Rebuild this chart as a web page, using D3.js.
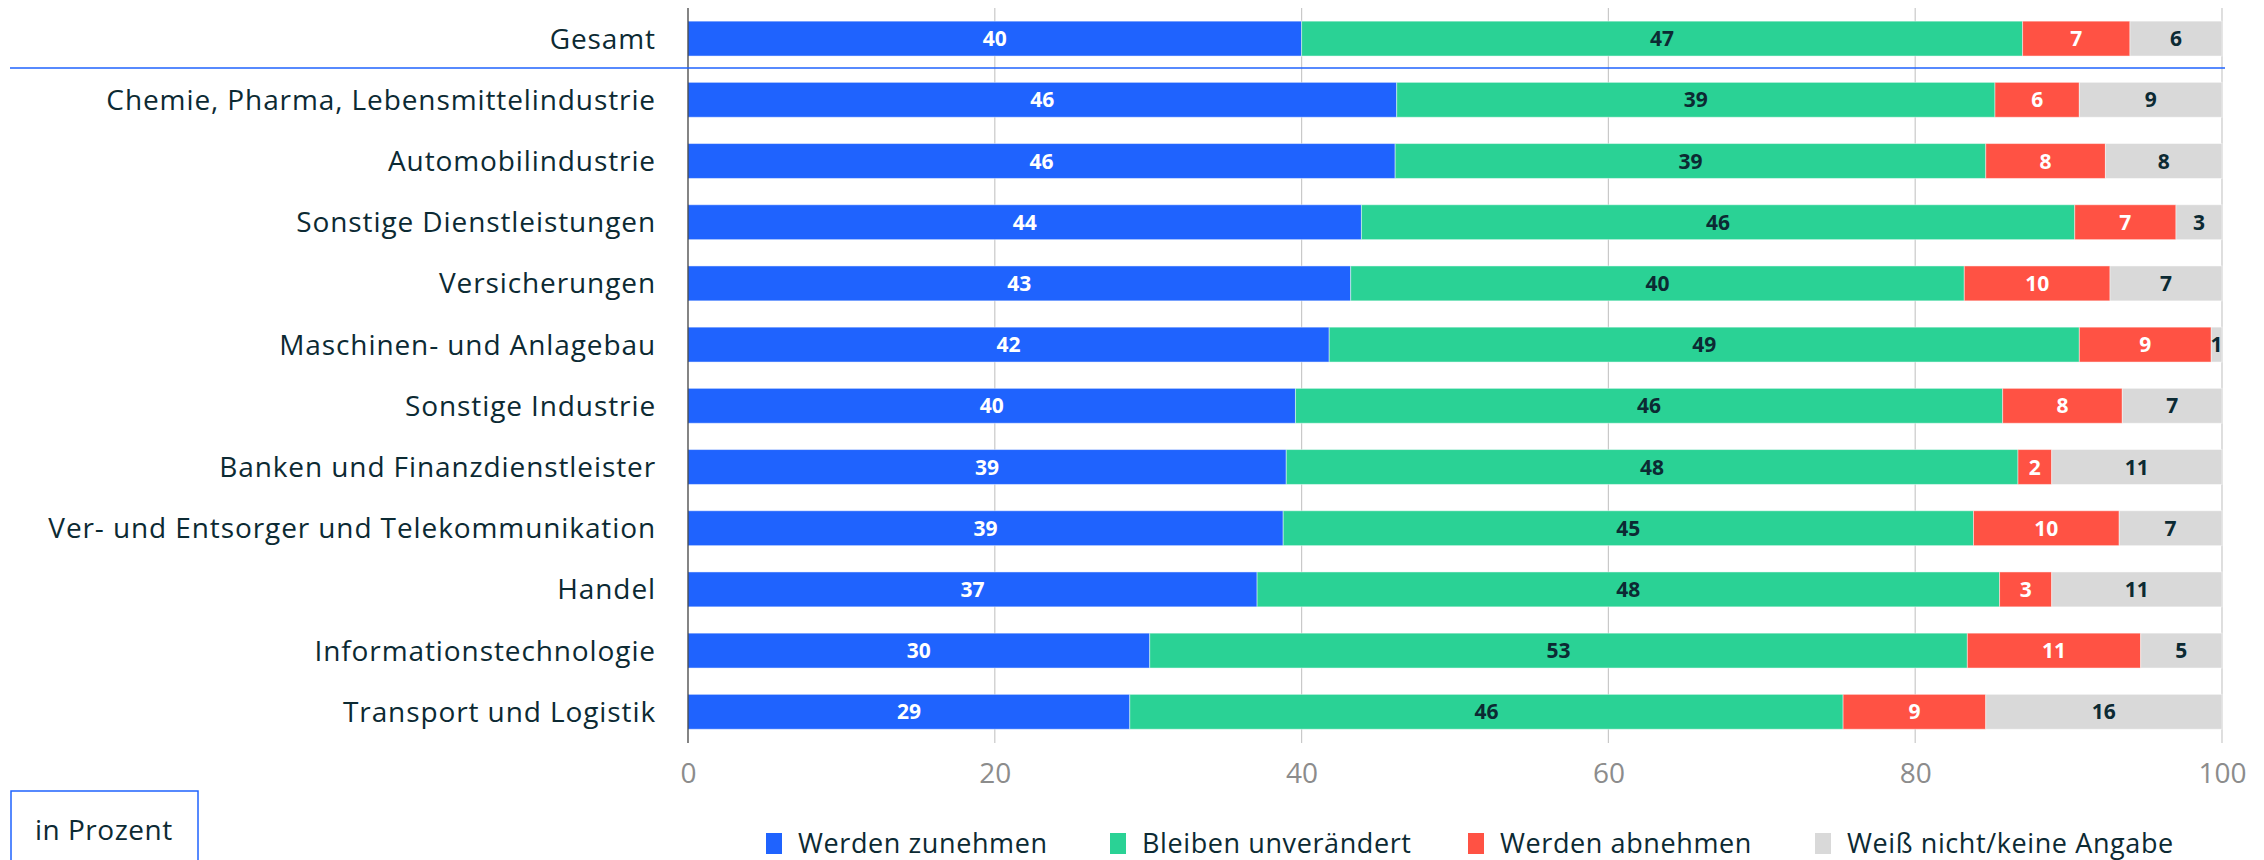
<!DOCTYPE html>
<html>
<head>
<meta charset="utf-8">
<script src="https://cdn.jsdelivr.net/npm/d3@7"></script>
<style>
  body { margin: 0; background: #fff; }
  svg { display: block; font-family: "Open Sans", sans-serif; }
</style>
</head>
<body>
<svg id="chart" width="2264" height="860"></svg>
<script>
// Kategorien (oben nach unten)
const categories = [
  "Gesamt",
  "Chemie, Pharma, Lebensmittelindustrie",
  "Automobilindustrie",
  "Sonstige Dienstleistungen",
  "Versicherungen",
  "Maschinen- und Anlagebau",
  "Sonstige Industrie",
  "Banken und Finanzdienstleister",
  "Ver- und Entsorger und Telekommunikation",
  "Handel",
  "Informationstechnologie",
  "Transport und Logistik"
];

const seriesNames = ["Werden zunehmen", "Bleiben unverändert", "Werden abnehmen", "Weiß nicht/keine Angabe"];

// Werte in Prozent
const zunehmen    = [40.0, 46.2, 46.1, 43.9, 43.2, 41.8, 39.6, 39.0, 38.8, 37.1, 30.1, 28.8];
const unveraendert = [47.0, 39.0, 38.5, 46.5, 40.0, 48.9, 46.1, 47.7, 45.0, 48.4, 53.3, 46.5];
const abnehmen    = [7.0, 5.5, 7.8, 6.6, 9.5, 8.6, 7.8, 2.2, 9.5, 3.4, 11.3, 9.3];
const weissNicht  = [6.0, 9.3, 7.6, 3.0, 7.3, 0.7, 6.5, 11.1, 6.7, 11.1, 5.3, 15.4];

// angezeigte Beschriftungen
const labZunehmen    = [40, 46, 46, 44, 43, 42, 40, 39, 39, 37, 30, 29];
const labUnveraendert = [47, 39, 39, 46, 40, 49, 46, 48, 45, 48, 53, 46];
const labAbnehmen    = [7, 6, 8, 7, 10, 9, 8, 2, 10, 3, 11, 9];
const labWeissNicht  = [6, 9, 8, 3, 7, 1, 7, 11, 7, 11, 5, 16];

const xTicks = [0, 20, 40, 60, 80, 100];

const colors = ["#1f63fe", "#2ad295", "#ff5244", "#d9d9d9"];
const labelColors = ["#ffffff", "#0c2a33", "#ffffff", "#0c2a33"];

const svg = d3.select("#chart");

const x = d3.scaleLinear().domain([0, 100]).range([688, 2222]);
const step = 61.2;
const y = d3.scaleBand()
  .domain(categories)
  .range([8, 8 + categories.length * step])
  .paddingInner(0.43)
  .paddingOuter(0.215);

// Tabelle fuer den Stack bauen
const table = categories.map((c, i) => ({
  cat: c,
  [seriesNames[0]]: zunehmen[i],
  [seriesNames[1]]: unveraendert[i],
  [seriesNames[2]]: abnehmen[i],
  [seriesNames[3]]: weissNicht[i],
  labels: [labZunehmen[i], labUnveraendert[i], labAbnehmen[i], labWeissNicht[i]]
}));

const stacked = d3.stack().keys(seriesNames)(table);

// Gitternetzlinien
svg.append("g")
  .selectAll("line")
  .data(xTicks.filter(d => d > 0))
  .join("line")
  .attr("x1", d => x(d)).attr("x2", d => x(d))
  .attr("y1", 8).attr("y2", 743)
  .attr("stroke", "#c9c9c9")
  .attr("stroke-width", 1.2);

// Balken
const layers = svg.append("g")
  .selectAll("g")
  .data(stacked)
  .join("g")
  .attr("fill", (d, i) => colors[i]);

layers.selectAll("rect")
  .data(d => d)
  .join("rect")
  .attr("x", d => x(d[0]))
  .attr("y", d => y(d.data.cat))
  .attr("width", d => x(d[1]) - x(d[0]))
  .attr("height", y.bandwidth())
  .attr("stroke", "#ffffff")
  .attr("stroke-opacity", 0.45)
  .attr("stroke-width", 1);

// Wertbeschriftungen
stacked.forEach((layer, si) => {
  svg.append("g")
    .selectAll("text")
    .data(layer)
    .join("text")
    .attr("x", d => (x(d[0]) + x(d[1])) / 2)
    .attr("y", d => y(d.data.cat) + y.bandwidth() / 2)
    .attr("dy", "0.36em")
    .attr("text-anchor", "middle")
    .attr("font-size", 21)
    .attr("font-weight", 700)
    .attr("fill", labelColors[si])
    .text(d => d.data.labels[si]);
});

// y-Achse (Linie bei 0)
svg.append("line")
  .attr("x1", x(0)).attr("x2", x(0))
  .attr("y1", 8).attr("y2", 743)
  .attr("stroke", "#333")
  .attr("stroke-width", 1.2);

// Kategorienbeschriftungen
svg.append("g")
  .selectAll("text")
  .data(categories)
  .join("text")
  .attr("x", 656)
  .attr("y", d => y(d) + y.bandwidth() / 2)
  .attr("dy", "0.36em")
  .attr("text-anchor", "end")
  .attr("font-size", 28)
  .attr("letter-spacing", 0.9)
  .attr("fill", "#0c2a33")
  .text(d => d);

// Trennlinie unter "Gesamt"
svg.append("line")
  .attr("x1", 10).attr("x2", 2225)
  .attr("y1", 68).attr("y2", 68)
  .attr("stroke", "#1f63fe")
  .attr("stroke-width", 1.5);

// x-Achse
const xAxis = svg.append("g")
  .attr("transform", "translate(0,752)")
  .call(d3.axisBottom(x).tickValues(xTicks).tickSize(0).tickPadding(11));
xAxis.select(".domain").remove();
xAxis.selectAll("text")
  .attr("font-family", "Open Sans, sans-serif")
  .attr("font-size", 28)
  .attr("font-weight", 400)
  .attr("fill", "#8c8c8c");

// Legende
const legendX = [766, 1110, 1468, 1815];
const legend = svg.append("g")
  .selectAll("g")
  .data(seriesNames)
  .join("g")
  .attr("transform", (d, i) => `translate(${legendX[i]},833)`);
legend.append("rect")
  .attr("width", 16).attr("height", 21)
  .attr("fill", (d, i) => colors[i]);
legend.append("text")
  .attr("x", 32).attr("y", 20)
  .attr("font-size", 27)
  .attr("letter-spacing", 0.6)
  .attr("fill", "#0c2a33")
  .text(d => d);

// Box "in Prozent"
svg.append("rect")
  .attr("x", 11).attr("y", 791)
  .attr("width", 187).attr("height", 80)
  .attr("fill", "none")
  .attr("stroke", "#1f63fe")
  .attr("stroke-width", 1.5);
svg.append("text")
  .attr("x", 35).attr("y", 840)
  .attr("font-size", 28)
  .attr("letter-spacing", 0.5)
  .attr("fill", "#0c2a33")
  .text("in Prozent");
</script>
</body>
</html>
